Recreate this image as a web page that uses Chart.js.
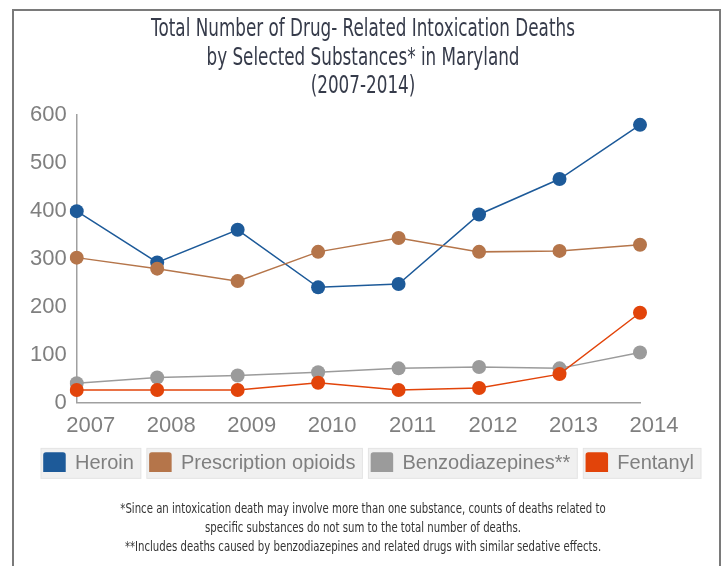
<!DOCTYPE html>
<html>
<head>
<meta charset="utf-8">
<script src="https://cdn.jsdelivr.net/npm/chart.js@4.4.1/dist/chart.umd.min.js"></script>
<style>
  html, body { margin: 0; padding: 0; background: #fff; }
  #frame {
    position: absolute; left: 12px; top: 9px;
    width: 705px; height: 570px;
    border: 2px solid #7a7a7a; border-bottom: none;
  }
  #chartWrap { position: relative; width: 705px; height: 557px; }
</style>
</head>
<body>
<div id="frame"><div id="chartWrap"><canvas id="chart"></canvas></div></div>
<script>
const years = ["2007", "2008", "2009", "2010", "2011", "2012", "2013", "2014"];
const heroin = [400, 293, 361, 241, 248, 393, 467, 580];
const prescriptionOpioids = [303, 280, 254, 315, 344, 315, 317, 330];
const benzodiazepines = [41, 53, 57, 64, 72, 75, 72, 105];
const fentanyl = [27, 27, 27, 42, 27, 31, 60, 188];
const seriesNames = ["Heroin", "Prescription opioids", "Benzodiazepines**", "Fentanyl"];
const titleLines = [
  "Total Number of Drug- Related Intoxication Deaths",
  "by Selected Substances* in Maryland",
  "(2007-2014)",
];
const footnoteLines = [
  "*Since an intoxication death may involve more than one substance, counts of deaths related to",
  "specific substances do not sum to the total number of deaths.",
  "**Includes deaths caused by benzodiazepines and related drugs with similar sedative effects.",
];

const colors = ["#1d5a99", "#b5754a", "#9b9b9b", "#e2440a"];
const textFont = "'DejaVu Sans', sans-serif";
const sans = "'Liberation Sans', Arial, sans-serif";

// legend sits closer to the axis labels than chart.js spaces it
const legendShiftX = 6;
const legendShiftY = 12;

function makeDataset(i, values, order) {
  return {
    label: seriesNames[i],
    data: values,
    borderColor: colors[i],
    backgroundColor: colors[i],
    borderWidth: 1.5,
    pointRadius: 7,
    pointHoverRadius: 7,
    pointBorderWidth: 0,
    tension: 0,
    order: order,
  };
}

// grey boxes behind each legend entry, legend pulled up a bit
const legendTweak = {
  id: "legendTweak",
  afterInit(chart) {
    const legend = chart.legend;
    if (!legend) return;
    const fit = legend.fit;
    legend.fit = function () {
      fit.call(this);
      this.height -= legendShiftY;
    };
    const draw = legend.draw;
    legend.draw = function () {
      const c = this.ctx;
      c.save();
      c.translate(legendShiftX, -legendShiftY);
      draw.call(this);
      c.restore();
    };
  },
  beforeDraw(chart) {
    const legend = chart.legend;
    if (!legend || !legend.legendHitBoxes) return;
    const ctx = chart.ctx;
    ctx.save();
    legend.legendHitBoxes.forEach((box) => {
      const cy = box.top + box.height / 2 - legendShiftY;
      const x = box.left + legendShiftX - 3;
      ctx.fillStyle = "#f0f0f0";
      ctx.strokeStyle = "#e4e4e4";
      ctx.lineWidth = 1;
      ctx.fillRect(x, cy - 15, box.width + 10, 30);
      ctx.strokeRect(x, cy - 15, box.width + 10, 30);
    });
    ctx.restore();
  },
};

// no condensed font installed, so squeeze title / footnote text sideways
const condensedText = {
  id: "condensedText",
  afterLayout(chart) {
    chart.boxes.forEach((box) => {
      if (box._squeezed || !box.options || box.options.text === undefined) return;
      const sx = box.options.position === "bottom" ? 0.725 : 0.672;
      const origDraw = box.draw;
      box.draw = function (area) {
        const c = this.ctx;
        const cx = (this.left + this.right) / 2;
        c.save();
        c.translate(cx, 0);
        c.scale(sx, 1);
        c.translate(-cx, 0);
        origDraw.call(this, area);
        c.restore();
      };
      box._squeezed = true;
    });
  },
};

function drawChart() {
  const ctx = document.getElementById("chart");
  const data = {
    labels: years,
    datasets: [
      makeDataset(0, heroin, 4),
      makeDataset(1, prescriptionOpioids, 3),
      makeDataset(2, benzodiazepines, 2),
      makeDataset(3, fentanyl, 1),
    ],
  };
  const config = {
    type: "line",
    data: data,
    plugins: [legendTweak, condensedText],
    options: {
      responsive: true,
      maintainAspectRatio: false,
      animation: false,
      layout: {
        padding: { left: 6, right: 13, top: 0, bottom: 11 },
      },
      scales: {
        x: {
          offset: false,
          grid: { display: false, drawTicks: false },
          border: { display: true, color: "#a0a0a0", dash: [4, 4], width: 1.5 },
          ticks: {
            color: "#7f7f7f",
            font: { family: sans, size: 22, lineHeight: 1 },
            padding: 12,
            labelOffset: 14,
            maxRotation: 0,
          },
        },
        y: {
          min: 0,
          max: 600,
          grid: { display: false, drawTicks: false },
          border: { display: true, color: "#a0a0a0", dash: [4, 4], width: 1.5 },
          ticks: {
            stepSize: 100,
            color: "#7f7f7f",
            font: { family: sans, size: 22 },
            padding: 10,
          },
        },
        // empty right-hand axis, only keeps the plot clear of the right edge
        spacer: {
          position: "right",
          grid: { display: false, drawTicks: false },
          border: { display: false },
          ticks: { display: false },
          afterFit(scale) {
            scale.width = 66;
          },
        },
      },
      plugins: {
        title: {
          display: true,
          text: titleLines,
          color: "#363b4a",
          font: { family: textFont, size: 25, weight: "normal", lineHeight: 1.15 },
          padding: { top: 4, bottom: 14 },
        },
        subtitle: {
          display: true,
          position: "bottom",
          text: footnoteLines,
          color: "#333",
          font: { family: textFont, size: 14, weight: "normal", lineHeight: 1.36 },
          padding: { top: 16, bottom: 0 },
        },
        legend: {
          position: "bottom",
          labels: {
            color: "#7f7f7f",
            font: { family: sans, size: 20 },
            boxWidth: 21,
            boxHeight: 21,
            useBorderRadius: true,
            borderRadius: 2,
            padding: 16,
            sort: (a, b) => a.datasetIndex - b.datasetIndex,
          },
        },
        tooltip: { enabled: false },
      },
    },
  };
  new Chart(ctx, config);
}

drawChart();
</script>
</body>
</html>
